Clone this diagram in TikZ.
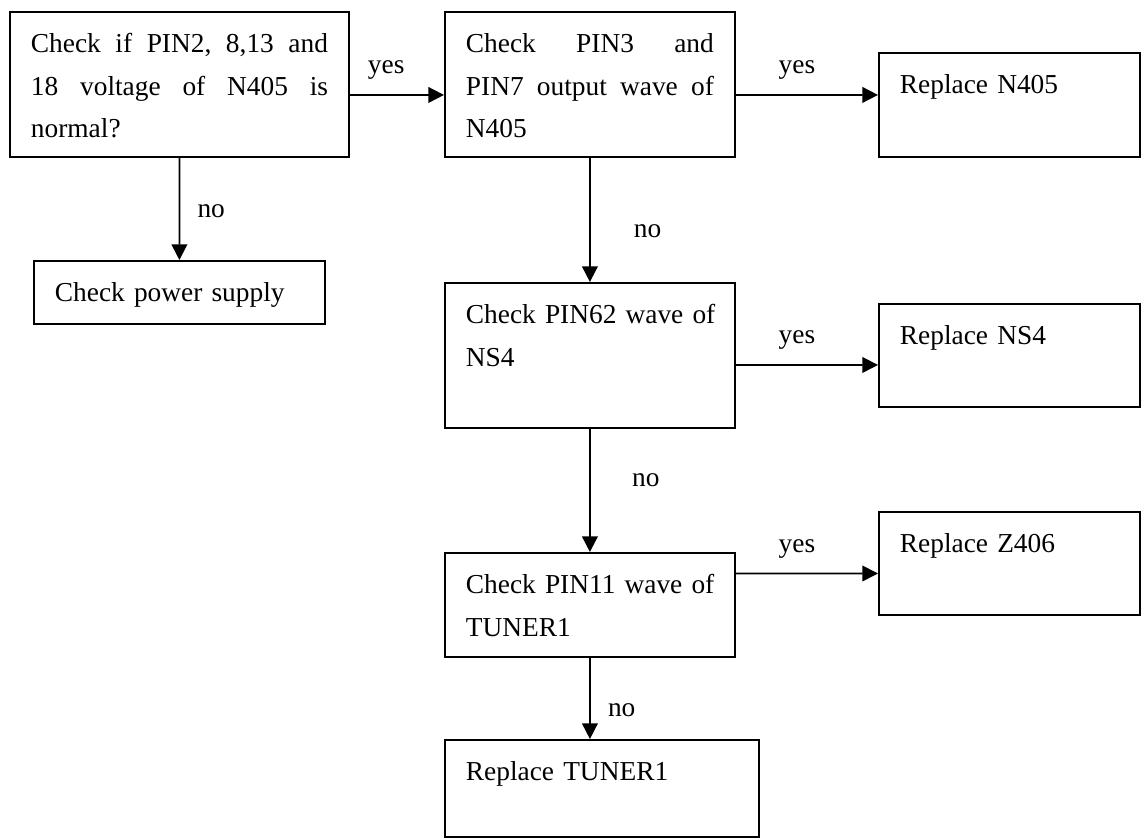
\documentclass[tikz,border=0pt]{standalone}
\usepackage{fontspec}
\setmainfont{Liberation Serif}
\usetikzlibrary{arrows.meta}

\begin{document}
\begin{tikzpicture}[x=0.4255pt,y=-0.4255pt,
    box/.style={draw,line width=0.8pt,anchor=north west,align=left,
      inner xsep=8.94pt,inner ysep=0pt,text height=17.45pt,
      font=\fontsize{11.65pt}{17.9pt}\selectfont},
    flow/.style={line width=0.75pt,-{Triangle[length=6.7pt,width=6.7pt]}},
    lbl/.style={font=\fontsize{11.65pt}{14pt}\selectfont}]
    \useasboundingbox (0,0) rectangle (1141,839);
    \node[box,text width=126.4pt,text depth=44.25pt] (volt) at (9,11)
    {Check\hfill if\hfill PIN2,\hfill 8,13\hfill and\\
     18\hfill voltage\hfill of\hfill N405\hfill is\\ normal?};
    \node[box,text width=105.5pt,text depth=44.25pt] (wave) at (444,11)
    {Check\hfill PIN3\hfill and\\
     PIN7\hfill output\hfill wave\hfill of\\ N405};
    \node[box,text width=93.2pt,text depth=26.8pt] (repN) at (878,52)
    {Replace N405};
    \node[box,text width=105.9pt,text depth=9.35pt] (power) at (33,260)
    {Check power supply};
    \node[box,text width=105.5pt,text depth=44.25pt] (ns) at (444,282)
    {\mbox{Check PIN62 wave of}\\ NS4};
    \node[box,text width=93.2pt,text depth=26.4pt] (repNS) at (878,303)
    {Replace NS4};
    \node[box,text width=105.5pt,text depth=26.8pt] (tuner) at (444,552)
    {\mbox{Check PIN11 wave of}\\ TUNER1};
    \node[box,text width=93.2pt,text depth=26.4pt] (repZ) at (878,511)
    {Replace Z406};
    \node[box,text width=115.7pt,text depth=23.8pt] (repT) at (444,739)
    {Replace TUNER1};
    % yes branches
    \path[flow,lbl]
    ([yshift=-4.47pt]volt.east) edge node[pos=.385,above=2.7pt] {yes} ([yshift=-4.47pt]wave.west);
    \path[flow,lbl]
    ([yshift=-4.47pt]wave.east) edge node[pos=.43,above=2.7pt] {yes} ([yshift=4.26pt]repN.west);
    \path[flow,lbl]
    ([yshift=-4.04pt]ns.east) edge node[pos=.43,above=2.7pt] {yes} ([yshift=-4.04pt]repNS.west);
    \path[flow,lbl]
    ([yshift=13.4pt]tuner.east) edge node[pos=.43,above=2.7pt] {yes} ([yshift=-4.26pt]repZ.west);
    % no branches
    \path[flow,lbl]
    (volt.south) edge node[pos=.52,right=4pt] {no} (power.north);
    \path[flow,lbl]
    (wave.south) edge node[pos=.59,right=15pt] {no} (ns.north);
    \path[flow,lbl]
    (ns.south) edge node[pos=.42,right=14.3pt] {no} (tuner.north);
    \path[flow,lbl]
    (tuner.south) edge node[pos=.65,right=4pt] {no} (tuner.south |- repT.north);
\end{tikzpicture}
\end{document}
